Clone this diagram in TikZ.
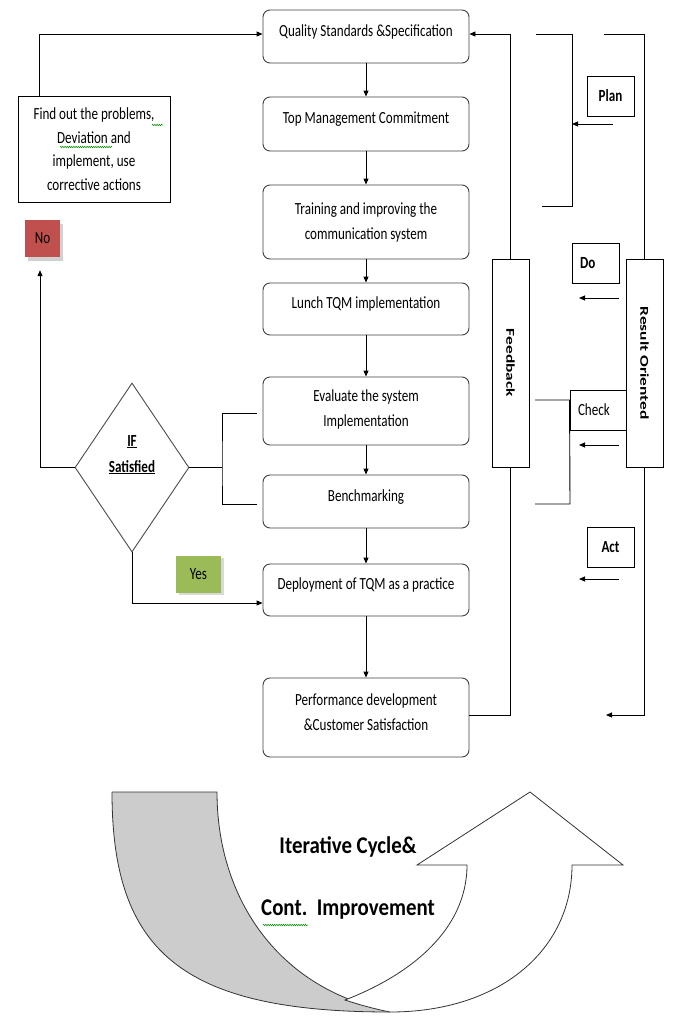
\documentclass[tikz,border=0pt]{standalone}
\usepackage{fontspec}
\setmainfont{Carlito}[FakeStretch=0.77]
\newfontfamily\plainfont{Carlito}
\newfontfamily\bigfont{Carlito}[FakeStretch=0.87]
\usetikzlibrary{shapes.geometric,arrows.meta,calc,decorations.pathmorphing,shadows}
\begin{document}
\begin{tikzpicture}[x=1pt,y=-1pt,
  proc/.style={draw=black!75, line width=0.9pt, rounded corners=7pt, minimum width=206pt, inner sep=2pt, align=center, font=\fontsize{17}{25}\selectfont},
  raised/.style={text depth=12pt},
  plainbox/.style={draw=black, line width=0.9pt, inner sep=0pt, font=\fontsize{17}{20}\selectfont},
  sidebox/.style={draw=black, line width=0.9pt, inner sep=0pt, minimum width=37pt, minimum height=208pt},
  conn/.style={line width=0.9pt, draw=black},
  arr/.style={conn, -{Triangle[length=6pt,width=5pt]}},
  squiggle/.style={draw=green!55!black, line width=0.5pt, decorate, decoration={snake, amplitude=0.8pt, segment length=2.2pt}},
  curvefill/.style={line width=0.8pt, draw=black!80},
]
\fill[white] (0,0) rectangle (673,1036);
\useasboundingbox (0,0) rectangle (673,1036);

% main process boxes
\node[proc, raised, minimum height=53pt] (q1) at (366,36.5) {Quality Standards \&Specification};
\node[proc, raised, minimum height=54pt] (q2) at (366,124) {Top Management Commitment};
\node[proc, minimum height=74pt] (q3) at (366,222) {Training and improving the\\communication system};
\node[proc, raised, minimum height=52pt] (q4) at (366,309) {Lunch TQM implementation};
\node[proc, text depth=6pt, minimum height=68pt] (q5) at (366,411) {Evaluate the system\\Implementation};
\node[proc, raised, minimum height=53pt] (q6) at (366,501.5) {Benchmarking};
\node[proc, raised, minimum height=52pt] (q7) at (366,590) {Deployment of TQM as a practice};
\node[proc, text depth=10pt, minimum height=79pt] (q8) at (366,717.5) {Performance development\\\&Customer Satisfaction};

\foreach \a/\b in {q1/q2,q2/q3,q3/q4,q4/q5,q5/q6,q6/q7,q7/q8}
  \draw[arr] (\a.south) -- (\b.north);

% left side
\node[plainbox, minimum width=152pt, minimum height=106pt, align=center, font=\fontsize{17}{23.5}\selectfont] (find) at (94,149)
  {Find out the problems,\\Deviation and\\implement, use\\corrective actions};
\draw[squiggle] (152,125) -- (163,125);
\draw[squiggle] (60,147) -- (112,147);

\node[fill={rgb,255:red,192;green,80;blue,77}, minimum width=35pt, minimum height=37pt, inner sep=0pt,
  font=\fontsize{17}{20}\selectfont,
  drop shadow={shadow xshift=2.5pt, shadow yshift=-4pt, fill=black!18, opacity=1}] (nobox) at (42.5,238.5) {No};
\node[fill={rgb,255:red,155;green,187;blue,89}, minimum width=45pt, minimum height=37pt, inner sep=0pt,
  font=\fontsize{17}{20}\selectfont,
  drop shadow={shadow xshift=2.5pt, shadow yshift=-2.5pt, fill=black!15, opacity=1}] (yesbox) at (198.5,574) {Yes};

\node[draw=black!70, line width=0.9pt, diamond, aspect=0.675, minimum width=114pt, minimum height=169pt, inner sep=0pt,
  align=center, font=\bfseries\fontsize{17}{26}\selectfont] (dia) at (132,467.5) {\underline{IF}\\\underline{Satisfied}\\[2pt]};

\draw[arr] ([xshift=22pt]find.north west) |- ([yshift=2.5pt]q1.west);
\draw[arr] (dia.west) -| ([xshift=-2.5pt,yshift=-13pt]nobox.south);
\coordinate (jn) at (222,467.5);
\draw[conn] (dia.east) -- (jn);
\draw[conn] ([xshift=-6pt,yshift=-2pt]q5.west) -| (jn) |- ([xshift=-6pt,yshift=-2.5pt]q6.west);
\draw[arr] (dia.south) |- ([yshift=-13pt]q7.west);

% feedback
\node[sidebox] (fb) at (510.5,363) {};
\node[rotate=-90, font=\plainfont\bfseries\fontsize{12}{14}\selectfont] at (fb.center) {\scalebox{1.45}[1]{Feedback}};
\draw[arr] (fb.north) |- ([yshift=2.5pt]q1.east);
\draw[conn] ([yshift=2.5pt]q8.east) -| (fb.south);

% result oriented
\node[sidebox] (ro) at (644.5,363) {};
\node[rotate=-90, font=\plainfont\bfseries\fontsize{12}{14}\selectfont] at (ro.center) {\scalebox{1.45}[1]{Result Oriented}};
\coordinate (rotop) at (604,34);
\coordinate (robot) at (606,715);
\draw[conn] (ro.north) |- (rotop);
\draw[arr] (ro.south) |- (robot);

% PDCA labels
\node[plainbox, minimum width=47pt, minimum height=40pt, font=\bfseries\fontsize{17}{20}\selectfont] (plan) at (610.5,96) {Plan};
\node[plainbox, minimum width=47pt, minimum height=40pt, font=\bfseries\fontsize{17}{20}\selectfont, text width=31pt, inner xsep=8pt, align=left] (do) at (595.5,263) {Do};
\node[plainbox, minimum width=56pt, minimum height=40pt, font=\fontsize{17}{20}\selectfont, text width=40pt, inner xsep=8pt, align=left] (check) at (598,410) {Check};
\node[plainbox, minimum width=47pt, minimum height=40pt, font=\bfseries\fontsize{17}{20}\selectfont] (act) at (610.5,547) {Act};

% plan bracket
\coordinate (pb1) at (536,34);
\coordinate (pb2) at (572,34);
\coordinate (pb3) at (572,206);
\coordinate (pb4) at (542,206);
\draw[conn] (pb1) -- (pb2) -- (pb3) -- (pb4);
\coordinate (pa1) at (613,124);
\coordinate (pa2) at (572,124);
\draw[arr] (pa1) -- (pa2);

% do arrow
\coordinate (da1) at (619,298);
\coordinate (da2) at (579,298);
\draw[arr] (da1) -- (da2);

% check bracket
\coordinate (cb1) at (535,400);
\coordinate (cb3) at (570,504);
\coordinate (cb4) at (535,504);
\draw[conn] (cb1) -- (check.west |- cb1) -- (cb3) -- (cb4);
\coordinate (ca1) at (619,445);
\coordinate (ca2) at (579,445);
\draw[arr] (ca1) -- (ca2);

% act arrow
\coordinate (aa1) at (619,579);
\coordinate (aa2) at (579,579);
\draw[arr] (aa1) -- (aa2);

% bottom curved arrow
\fill[black!20] (112,792) -- (217,792) .. controls (217,900) and (280,990) .. (390,1011)
  -- (390,1012) .. controls (180,1012) and (112,950) .. (112,792) -- cycle;
\draw[curvefill] (112,792) -- (217,792) .. controls (217,900) and (280,990) .. (390,1011);
\draw[curvefill] (390,1012) .. controls (180,1012) and (112,950) .. (112,792);
\draw[curvefill, fill=white]
  (345,1000) .. controls (360,1005) and (375,1009) .. (390,1012)
  .. controls (500,1012) and (572,950) .. (572,865)
  -- (623,865) -- (530,792) -- (417,865) -- (467,865)
  .. controls (467,930) and (410,975) .. (345,1000) -- cycle;

\node[font=\bigfont\bfseries\fontsize{24}{28}\selectfont] (t1) at (348,847) {Iterative Cycle\&};
\node[font=\bigfont\bfseries\fontsize{24}{28}\selectfont] (t2) at (348,910) {Cont.\ \ Improvement};
\draw[squiggle] (263,925) -- (308,925);
\end{tikzpicture}
\end{document}
